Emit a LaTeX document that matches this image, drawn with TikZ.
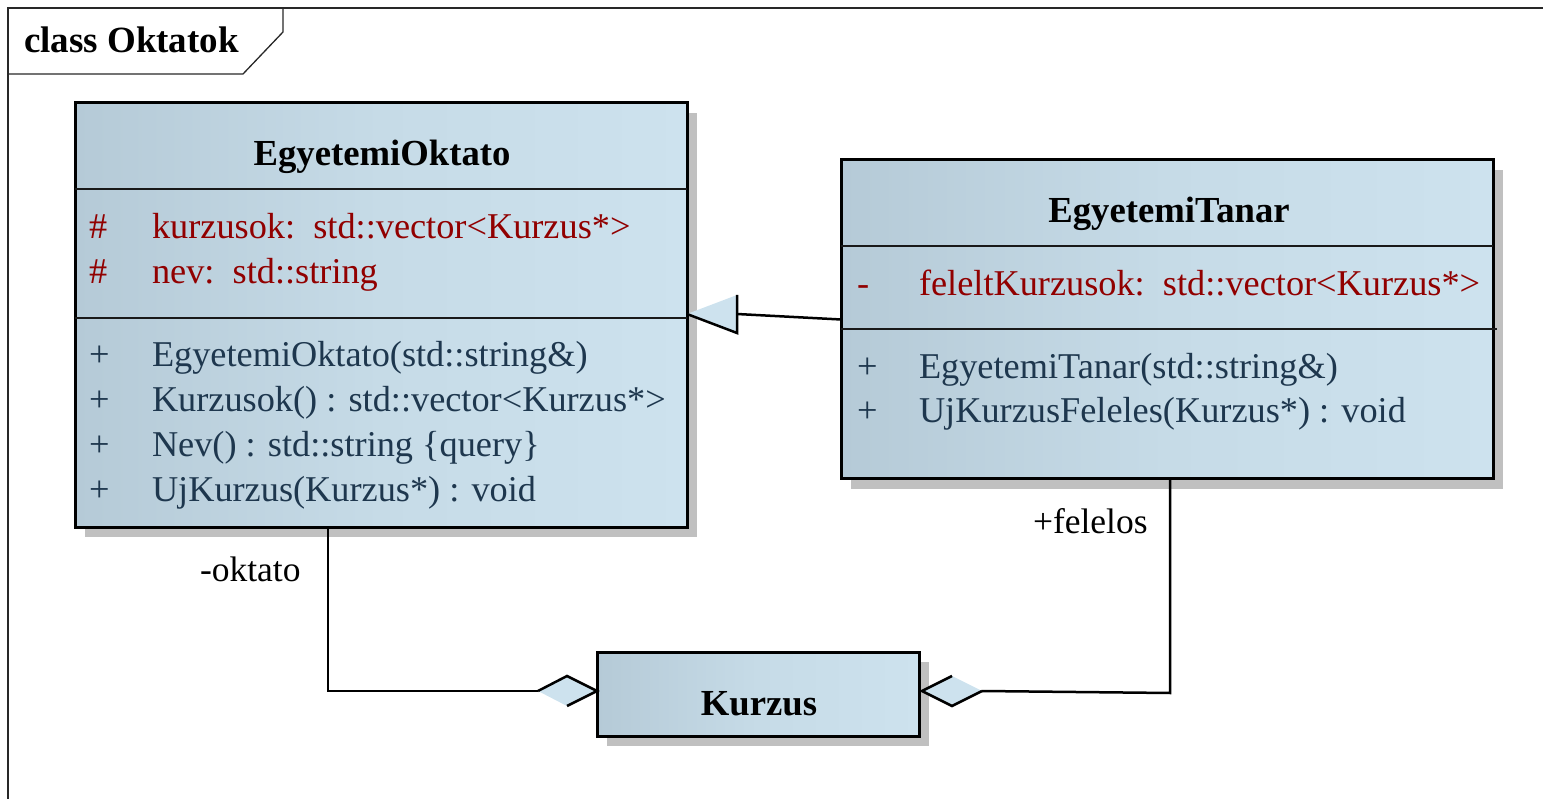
\documentclass[tikz,border=0pt]{standalone}
\usepackage{fontspec}
\setmainfont{Liberation Serif}
\definecolor{boxdark}{RGB}{181,202,215}
\definecolor{boxmid}{RGB}{198,219,231}
\definecolor{boxlight}{RGB}{205,226,238}
\definecolor{shadowgray}{RGB}{192,192,192}
\definecolor{attrred}{RGB}{145,0,0}
\definecolor{opnavy}{RGB}{30,55,78}
\definecolor{framegray}{RGB}{40,40,40}
\begin{document}
\begin{tikzpicture}[x=1pt,y=-1pt,
  every node/.style={inner sep=0pt, outer sep=0pt},
  txt/.style={font=\fontsize{35.5}{42}\selectfont, anchor=base west},
  membertxt/.style={font=\fontsize{36.3}{42}\selectfont, anchor=base west},
  nametxt/.style={font=\fontsize{36.7}{42}\selectfont\bfseries, anchor=base},
  attr/.style={membertxt, text=attrred},
  oper/.style={membertxt, text=opnavy},
  classbox/.style={draw=black, line width=3pt, anchor=north west,
    left color=boxdark, right color=boxlight, middle color=boxmid,
    preaction={fill=shadowgray, transform canvas={shift={(10pt,-10pt)}}}},
  divider/.style={draw=black!90, line width=2.7pt},
  conn/.style={draw=black, line width=2.5pt, line join=miter},
  headfill/.style={fill=boxlight},
  frame/.style={draw=framegray, line width=1.3pt}]
\useasboundingbox (0,0) rectangle (1543,799);

% diagram frame with its name tab
\draw[frame] (8,799) -- (8,8) -- (1543,8);
\draw[frame] (8,74) -- (243,74) -- (283,32) -- (283,8);
\node[anchor=base west, font=\fontsize{37}{42}\selectfont\bfseries] (title) at (24,53) {class Oktatok};

% class EgyetemiOktato
\node[classbox, minimum width=612pt, minimum height=424pt] (oktato) at (75,103) {};
\draw[divider] (75,189) -- (687,189);
\draw[divider] (75,318) -- (687,318);
\node[nametxt] (oktato-name) at (382,166) {EgyetemiOktato};
\node[attr] (ok-a1v) at (89,239) {\#};
\node[attr] (ok-a1) at (152,239) {kurzusok:~~std::vector<Kurzus*>};
\node[attr] (ok-a2v) at (89,284) {\#};
\node[attr] (ok-a2) at (152,284) {nev:~~std::string};
\node[oper] (ok-o1v) at (89,367) {+};
\node[oper] (ok-o1) at (152,367) {EgyetemiOktato(std::string\&)};
\node[oper] (ok-o2v) at (89,412) {+};
\node[oper] (ok-o2) at (152,412) {Kurzusok() : std::vector<Kurzus*>};
\node[oper] (ok-o3v) at (89,457) {+};
\node[oper] (ok-o3) at (152,457) {Nev() : std::string \{query\}};
\node[oper] (ok-o4v) at (89,502) {+};
\node[oper] (ok-o4) at (152,502) {UjKurzus(Kurzus*) : void};

% class EgyetemiTanar
\node[classbox, minimum width=652pt, minimum height=319pt] (tanar) at (841,160) {};
\draw[divider] (841,246) -- (1493,246);
\draw[divider] (841,329) -- (1497,329);
\node[nametxt] (tanar-name) at (1169,223) {EgyetemiTanar};
\node[attr] (ta-a1v) at (857,296) {-};
\node[attr] (ta-a1) at (919,296) {feleltKurzusok:~~std::vector<Kurzus*>};
\node[oper] (ta-o1v) at (857,379) {+};
\node[oper] (ta-o1) at (919,379) {EgyetemiTanar(std::string\&)};
\node[oper] (ta-o2v) at (857,423) {+};
\node[oper] (ta-o2) at (919,423) {UjKurzusFeleles(Kurzus*) : void};

% class Kurzus
\node[classbox, minimum width=322pt, minimum height=84pt] (kurzus) at (597,652) {};
\node[nametxt] (kurzus-name) at (759,715) {Kurzus};

% generalization EgyetemiTanar -> EgyetemiOktato
\coordinate (genbase) at ([xshift=50pt,yshift=1pt]oktato.east);
\draw[conn] (tanar.west) -- (genbase);
\fill[headfill] ([yshift=1pt]oktato.east) -- ([xshift=50pt,yshift=20pt]oktato.east)
  -- ([xshift=50pt,yshift=-18pt]oktato.east) -- cycle;
\draw[conn] ([xshift=50pt,yshift=20pt]oktato.east) -- ([xshift=50pt,yshift=-18pt]oktato.east)
  -- ([yshift=1pt]oktato.east);

% aggregation EgyetemiOktato (-oktato) <>- Kurzus
\coordinate (ldright) at ([yshift=3pt]kurzus.west);
\coordinate (ldtop) at ([xshift=-30pt,yshift=18pt]kurzus.west);
\coordinate (ldleft) at ([xshift=-59pt,yshift=3pt]kurzus.west);
\coordinate (ldbottom) at ([xshift=-30pt,yshift=-12pt]kurzus.west);
\fill[headfill] (ldright) -- (ldtop) -- (ldleft) -- (ldbottom) -- cycle;
\draw[conn] (ldleft) -- (ldtop) -- (ldright) -- (ldbottom);
\draw[conn] ([xshift=253pt]oktato.south west) |- (ldleft);
\node[txt] (lbl-oktato) at (200,581) {-oktato};

% aggregation EgyetemiTanar (+felelos) <>- Kurzus
\coordinate (rdleft) at ([xshift=3pt,yshift=3pt]kurzus.east);
\coordinate (rdtop) at ([xshift=33pt,yshift=18pt]kurzus.east);
\coordinate (rdright) at ([xshift=63pt,yshift=3pt]kurzus.east);
\coordinate (rdbottom) at ([xshift=33pt,yshift=-12pt]kurzus.east);
\coordinate (rbend) at ([xshift=329pt]tanar.south west |- 0,693);
\fill[headfill] (rdleft) -- (rdtop) -- (rdright) -- (rdbottom) -- cycle;
\draw[conn] (rdtop) -- (rdleft) -- (rdbottom) -- (rdright);
\draw[conn] ([xshift=329pt]tanar.south west) -- (rbend) -- (rdright);
\node[txt] (lbl-felelos) at (1033,533) {+felelos};
\end{tikzpicture}
\end{document}
